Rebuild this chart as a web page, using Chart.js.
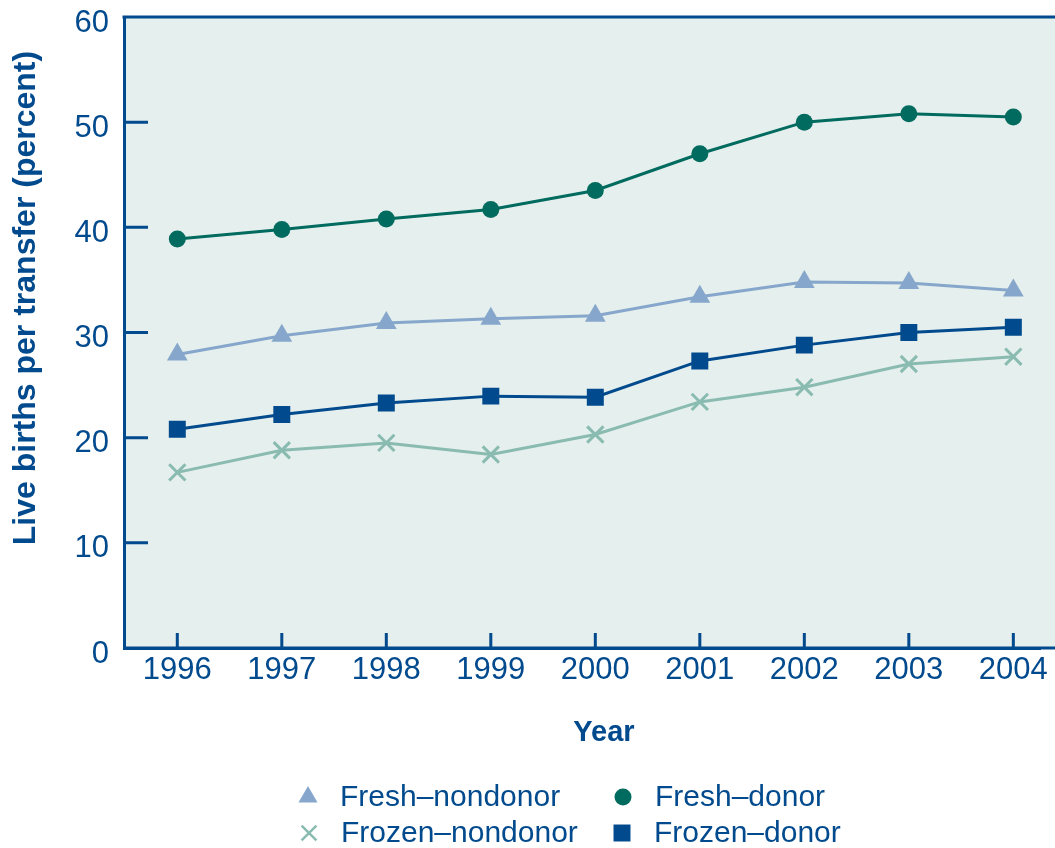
<!DOCTYPE html>
<html>
<head>
<meta charset="utf-8">
<script src="https://cdn.jsdelivr.net/npm/chart.js@4/dist/chart.umd.min.js"></script>
<style>
  html, body { margin: 0; padding: 0; background: #fff; }
  #wrap { width: 1055px; height: 848px; }
</style>
</head>
<body>
<div id="wrap"><canvas id="chart" width="1055" height="848"></canvas></div>
<script>
const years = [1996, 1997, 1998, 1999, 2000, 2001, 2002, 2003, 2004];
const freshNondonor = [27.9, 29.7, 30.9, 31.3, 31.6, 33.4, 34.8, 34.7, 34.0];
const freshDonor = [38.9, 39.8, 40.8, 41.7, 43.5, 47.0, 50.0, 50.8, 50.5];
const frozenNondonor = [16.7, 18.8, 19.5, 18.4, 20.3, 23.4, 24.8, 27.0, 27.7];
const frozenDonor = [20.8, 22.2, 23.3, 23.95, 23.85, 27.3, 28.8, 30.0, 30.5];
const yTicks = [0, 10, 20, 30, 40, 50, 60];

const navy = '#004a8d';
const FONT = "'Liberation Sans', Arial, Helvetica, sans-serif";

function pts(vals) {
    return vals.map((v, i) => ({ x: years[i], y: v }));
}

function noPad(s) {
    s.paddingLeft = 0;
    s.paddingRight = 0;
    s.paddingTop = 0;
    s.paddingBottom = 0;
}

// plot background, top border, inward tick marks, axis titles, legend
const decor = {
    id: 'decor',
    beforeDatasetsDraw(chart) {
        const { ctx, chartArea: a, scales } = chart;
        ctx.save();
        ctx.strokeStyle = navy;
        ctx.lineWidth = 3;
        ctx.beginPath();
        yTicks.forEach(t => {
            if (t === 0 || t === 60) return;
            const y = scales.y.getPixelForValue(t);
            ctx.moveTo(a.left, y);
            ctx.lineTo(a.left + 24, y);
        });
        years.forEach(yr => {
            const x = scales.x.getPixelForValue(yr);
            ctx.moveTo(x, a.bottom);
            ctx.lineTo(x, a.bottom - 15);
        });
        ctx.stroke();
        ctx.restore();
    },
    beforeDraw(chart) {
        const { ctx, chartArea: a } = chart;
        const right = chart.width;
        ctx.save();
        ctx.fillStyle = '#e5efed';
        ctx.fillRect(a.left, a.top, right - a.left, a.bottom - a.top);
        ctx.strokeStyle = navy;
        ctx.lineWidth = 3;
        ctx.beginPath();
        ctx.moveTo(a.left - 1.5, a.top);
        ctx.lineTo(right, a.top);
        ctx.moveTo(a.left, a.bottom);
        ctx.lineTo(right, a.bottom);
        ctx.stroke();
        ctx.restore();
    },
    afterDraw(chart) {
        const { ctx } = chart;
        ctx.save();
        ctx.fillStyle = navy;
        ctx.textAlign = 'center';
        ctx.textBaseline = 'middle';
        // x title
        ctx.font = "bold 29px " + FONT;
        ctx.fillText('Year', 604, 733);
        // y title
        ctx.font = "bold 32px " + FONT;
        ctx.translate(26, 298);
        ctx.rotate(-Math.PI / 2);
        ctx.fillText('Live births per transfer (percent)', 0, 0);
        ctx.restore();

        // legend, two columns
        const spots = [[308, 797], [623, 797], [309, 833], [622, 833]];
        ctx.save();
        ctx.font = "30px " + FONT;
        ctx.textAlign = 'left';
        ctx.textBaseline = 'middle';
        chart.data.datasets.forEach((ds, k) => {
            const [x, y] = spots[k];
            ctx.fillStyle = ds.pointBackgroundColor;
            ctx.strokeStyle = ds.pointBorderColor;
            ctx.lineWidth = ds.legendBorder;
            Chart.helpers.drawPoint(ctx, {
                pointStyle: ds.pointStyle,
                radius: ds.legendRadius,
                rotation: 0,
                borderWidth: ds.legendBorder
            }, x, y);
            ctx.fillStyle = navy;
            ctx.fillText(ds.label, x + 32, y + 1);
        });
        ctx.restore();
    }
};

new Chart(document.getElementById('chart'), {
    type: 'line',
    data: {
        datasets: [
            {
                label: 'Fresh\u2013nondonor',
                data: pts(freshNondonor),
                borderColor: '#86a7cb',
                borderWidth: 3,
                pointStyle: 'triangle',
                pointRadius: 12,
                pointBackgroundColor: '#86a7cb',
                pointBorderColor: '#86a7cb',
                pointBorderWidth: 0,
                legendRadius: 11,
                legendBorder: 0
            },
            {
                label: 'Fresh\u2013donor',
                data: pts(freshDonor),
                borderColor: '#006b5e',
                borderWidth: 3,
                pointStyle: 'circle',
                pointRadius: 8.5,
                pointBackgroundColor: '#006b5e',
                pointBorderColor: '#006b5e',
                pointBorderWidth: 0,
                legendRadius: 8.5,
                legendBorder: 0
            },
            {
                label: 'Frozen\u2013nondonor',
                data: pts(frozenNondonor),
                borderColor: '#8abbb1',
                borderWidth: 3,
                pointStyle: 'crossRot',
                pointRadius: 11.5,
                pointBackgroundColor: '#8abbb1',
                pointBorderColor: '#8abbb1',
                pointBorderWidth: 3,
                legendRadius: 10.5,
                legendBorder: 2.5
            },
            {
                label: 'Frozen\u2013donor',
                data: pts(frozenDonor),
                borderColor: navy,
                borderWidth: 3,
                pointStyle: 'rect',
                pointRadius: 12,
                pointBackgroundColor: navy,
                pointBorderColor: navy,
                pointBorderWidth: 0,
                legendRadius: 12,
                legendBorder: 0
            }
        ]
    },
    options: {
        responsive: false,
        animation: false,
        layout: { padding: { top: 17, right: 0, bottom: 95, left: 0 } },
        plugins: {
            legend: { display: false },
            tooltip: { enabled: false }
        },
        elements: { line: { tension: 0 } },
        scales: {
            x: {
                type: 'linear',
                min: 1995.49,
                max: 2004.26,
                afterFit: s => {
                    s.height = 105;
                    noPad(s);
                },
                afterBuildTicks: s => { s.ticks = years.map(v => ({ value: v })); },
                grid: { display: false, drawTicks: false },
                border: { display: true, color: navy, width: 3 },
                ticks: {
                    color: navy,
                    font: { family: FONT, size: 31 },
                    padding: 4,
                    callback: v => String(v)
                }
            },
            y: {
                min: 0,
                max: 60,
                afterFit: s => {
                    s.width = 124;
                    noPad(s);
                },
                afterBuildTicks: s => { s.ticks = yTicks.map(v => ({ value: v })); },
                grid: { display: false, drawTicks: false },
                border: { display: true, color: navy, width: 3 },
                ticks: {
                    color: navy,
                    font: { family: FONT, size: 31 },
                    padding: 15,
                    labelOffset: 6
                }
            }
        }
    },
    plugins: [decor]
});
</script>
</body>
</html>
